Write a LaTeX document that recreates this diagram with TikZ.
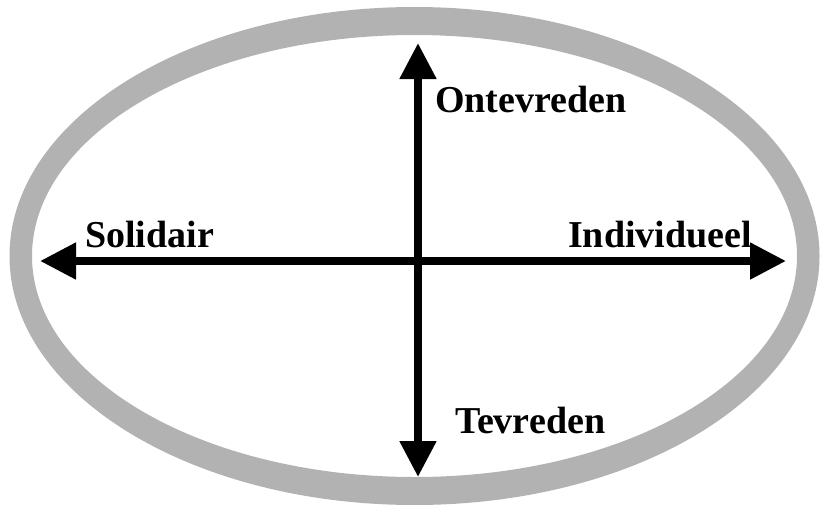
\documentclass[tikz,border=0pt]{standalone}
\usepackage{fontspec}
\setmainfont{Liberation Serif}
\usetikzlibrary{arrows.meta}
\begin{document}
\begin{tikzpicture}[x=1pt,y=-1pt,
  ring/.style={fill=black!30,even odd rule},
  axis/.style={line width=8pt,-{Triangle[length=36pt,width=35pt]}},
  lbl/.style={anchor=base west,inner sep=0pt,font=\fontsize{38}{40}\selectfont\bfseries}]
\useasboundingbox (0,0) rectangle (821,504);
\clip (0,0) rectangle (821,504);
\fill[ring] (414.5,256) ellipse [x radius=405pt, y radius=249pt]
            (414.5,256) ellipse [x radius=382.5pt, y radius=221pt];
\coordinate (c) at (418,261);
\coordinate (west) at (40,261);
\coordinate (east) at (786,261);
\coordinate (north) at (418,43);
\coordinate (south) at (418,477);
\draw[axis] (c) -- (west);
\draw[axis] (c) -- (east);
\draw[axis] (c) -- (north);
\draw[axis] (c) -- (south);
\node[lbl] (ont) at (435,112) {Ontevreden};
\node[lbl] (sol) at (85,247) {Solidair};
\node[lbl] (ind) at (568,247) {Individueel};
\node[lbl] (tev) at (455,433) {Tevreden};
\end{tikzpicture}
\end{document}
